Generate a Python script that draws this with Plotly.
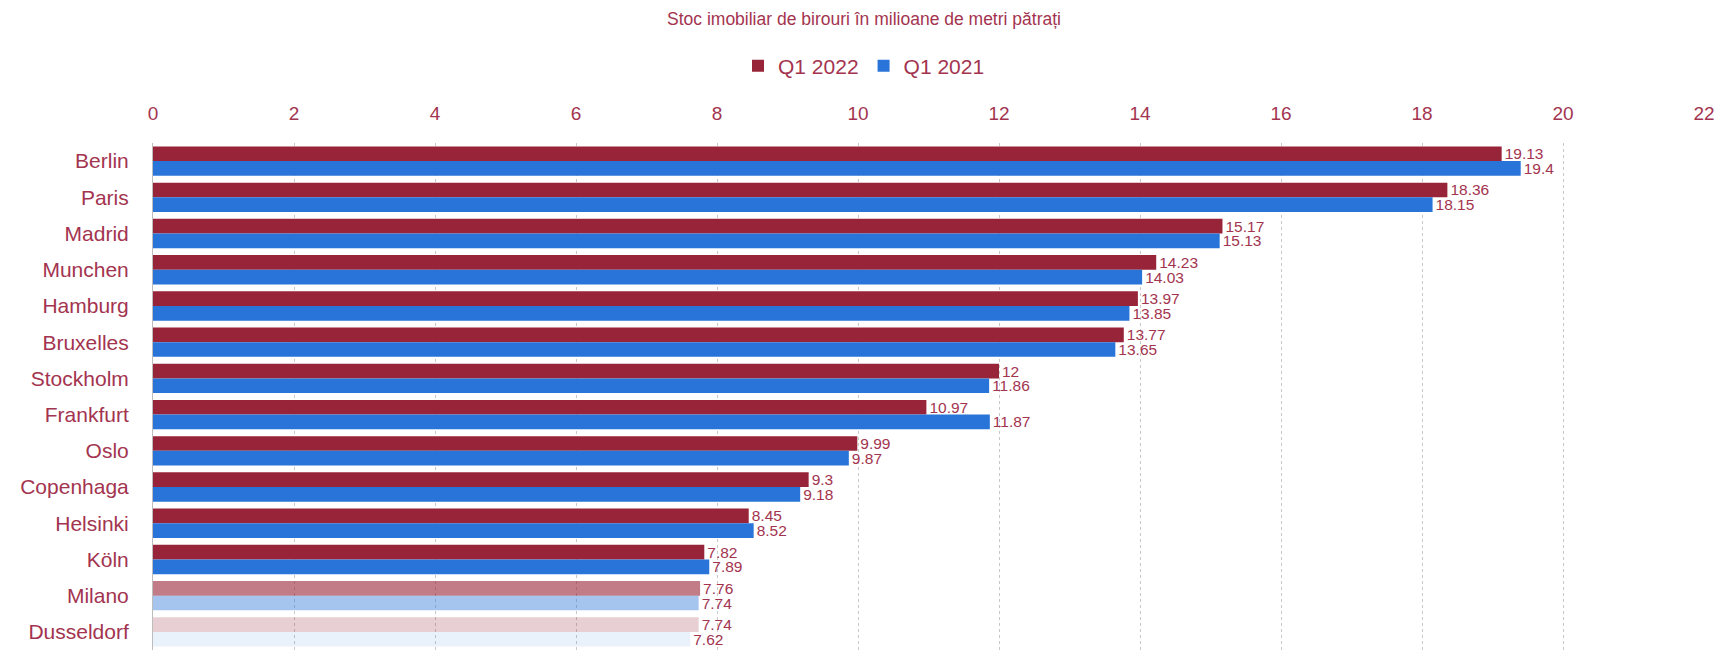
import plotly.graph_objects as go

cities = ["Berlin", "Paris", "Madrid", "Munchen", "Hamburg", "Bruxelles", "Stockholm",
          "Frankfurt", "Oslo", "Copenhaga", "Helsinki", "Köln", "Milano", "Dusseldorf"]
q1_2022 = [19.13, 18.36, 15.17, 14.23, 13.97, 13.77, 12, 10.97, 9.99, 9.3, 8.45, 7.82, 7.76, 7.74]
q1_2021 = [19.4, 18.15, 15.13, 14.03, 13.85, 13.65, 11.86, 11.87, 9.87, 9.18, 8.52, 7.89, 7.74, 7.62]

title_text = "Stoc imobiliar de birouri în milioane de metri pătrați"
red = "152,36,57"
blue = "40,116,216"
txt = "#a3344f"

# fade-out toward the bottom of the chart
fade_red = [1.0] * 12 + [0.6, 0.22]
fade_blue = [1.0] * 12 + [0.42, 0.1]

fig = go.Figure()
fig.add_trace(go.Bar(
    y=cities, x=q1_2022, name="Q1 2022", orientation="h",
    marker=dict(color=[f"rgba({red},{a})" for a in fade_red], line=dict(width=0)),
    text=[str(v) for v in q1_2022], textposition="outside", cliponaxis=False,
    constraintext="none",
    textfont=dict(color=txt, size=15.5), legendrank=1,
))
fig.add_trace(go.Bar(
    y=cities, x=q1_2021, name="Q1 2021", orientation="h",
    marker=dict(color=[f"rgba({blue},{a})" for a in fade_blue], line=dict(width=0)),
    text=[str(v) for v in q1_2021], textposition="outside", cliponaxis=False,
    constraintext="none",
    textfont=dict(color=txt, size=15.5), legendrank=2,
))

fig.update_layout(
    width=1728, height=655,
    paper_bgcolor="white", plot_bgcolor="white",
    font=dict(family="Liberation Sans, Arial, sans-serif", color=txt),
    title=dict(text=title_text, x=0.5, xref="container", xanchor="center",
               y=1 - 19 / 655, yref="container", yanchor="middle",
               font=dict(size=17.5, color=txt)),
    legend=dict(orientation="h", x=0.5, xref="container", xanchor="center",
                y=1 - 66 / 655, yref="container", yanchor="middle",
                font=dict(size=21, color=txt), itemwidth=30,
                traceorder="normal"),
    margin=dict(l=153, r=24, t=143, b=5, autoexpand=False),
    barmode="group", bargap=0.19, bargroupgap=0.0,
    showlegend=True,
)
fig.update_xaxes(side="top", range=[0, 22], dtick=2, tick0=0,
                 showgrid=True, gridcolor="#c8c8c8", griddash="dot", gridwidth=1,
                 zeroline=False, showline=False,
                 tickfont=dict(size=19, color=txt), ticks="", ticklabelstandoff=18)
fig.update_yaxes(autorange="reversed", showgrid=False, showline=True, linecolor="#bdbdbd",
                 linewidth=1, tickfont=dict(size=21, color=txt), ticks="",
                 ticklabelstandoff=19)

fig.write_html("out.html", config={"displayModeBar": False},
               post_script="document.body.style.margin='0px';")
